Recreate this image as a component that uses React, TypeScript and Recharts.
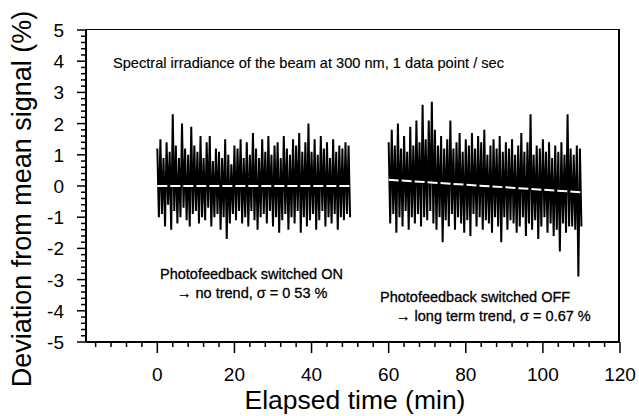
import { LineChart, Line, XAxis, YAxis } from "recharts";

// deviation (%) sampled every 0.4 min, photofeedback ON (0 - 50 min)
const onValues = [
  1.2, -1.0, 1.5, -0.9, 0.9, -1.3, 1.4, -0.6, 1.1, -1.4,
  2.3, -0.8, 1.3, -1.2, 0.9, -1.0, 2.0, -0.7, 1.2, -1.1,
  1.0, -1.3, 1.9, -0.9, 1.3, -0.8, 1.1, -1.2, 1.6, -1.0,
  0.9, -1.1, 1.4, -0.7, 1.6, -1.3, 0.8, -1.0, 1.2, -0.9,
  1.1, -1.4, 0.9, -1.0, 1.5, -1.7, 1.0, -1.2, 0.7, -0.9,
  1.3, -1.1, 1.2, -0.8, 1.5, -1.2, 0.9, -1.0, 1.4, -1.3,
  1.0, -0.8, 1.7, -1.1, 1.2, -1.4, 0.9, -1.0, 1.5, -0.9,
  1.1, -1.2, 1.6, -0.8, 1.0, -1.3, 1.3, -1.0, 1.4, -1.5,
  0.9, -1.1, 1.6, -0.9, 1.2, -1.4, 1.0, -1.0, 1.5, -1.2,
  1.3, -0.8, 1.7, -1.5, 1.1, -1.0, 1.4, -1.3, 2.0, -1.1,
  1.1, -0.9, 1.5, -1.4, 1.0, -1.1, 1.6, -0.8, 1.2, -1.3,
  1.4, -1.0, 0.9, -1.2, 1.5, -0.9, 1.1, -1.4, 1.3, -1.0,
  1.2, -1.1, 1.4, -0.9, 1.3, -1.0,
];

// photofeedback OFF (60 - 110 min)
const offValues = [
  1.4, -1.2, 1.8, -0.9, 1.3, -1.5, 2.0, -1.0, 1.2, -1.3,
  1.6, -0.8, 1.1, -1.4, 1.9, -1.0, 1.3, -1.2, 2.1, -0.9,
  1.4, -1.3, 2.6, -1.0, 1.5, -1.1, 2.1, -0.8, 2.7, -1.2,
  1.8, -1.4, 1.3, -1.0, 1.6, -1.8, 1.2, -1.1, 1.5, -1.3,
  2.1, -0.9, 1.2, -1.4, 1.4, -1.0, 1.7, -1.2, 1.1, -1.5,
  1.5, -1.1, 1.3, -1.6, 1.7, -0.9, 1.2, -1.3, 1.6, -1.0,
  1.4, -1.4, 1.8, -1.1, 1.0, -1.2, 1.3, -1.5, 1.5, -1.0,
  1.2, -1.3, 1.6, -1.8, 1.1, -1.0, 1.4, -1.4, 1.2, -1.1,
  1.5, -1.2, 1.0, -1.5, 1.3, -1.3, 1.7, -1.0, 1.1, -1.6,
  1.4, -1.2, 2.3, -1.4, 1.0, -1.1, 1.3, -1.7, 1.2, -1.3,
  1.5, -1.0, 1.1, -1.5, 1.4, -1.2, 0.9, -1.6, 1.3, -1.4,
  1.1, -2.1, 1.4, -1.2, 1.0, -1.5, 2.3, -1.3, 1.2, -1.3,
  1.0, -1.4, 1.3, -2.9, 1.2, -1.3,
];

const onStart = 0;
const offStart = 60;
const sampleStep = 0.4;

const onTrend = [
  { t: 0, v: 0 },
  { t: 50, v: 0 },
];
const offTrend = [
  { t: 60, v: 0.2 },
  { t: 110, v: -0.2 },
];

const xTicks = [-16, -12, -8, -4, 0, 4, 8, 12, 16, 20, 24, 28, 32, 36, 40, 44, 48, 52, 56, 60, 64, 68, 72, 76, 80, 84, 88, 92, 96, 100, 104, 108, 112, 116, 120];
const yTicks = Array.from({ length: 51 }, (_, i) => Math.round((i - 25) * 2) / 10);

const onData = onValues.map((v, i) => ({ t: onStart + i * sampleStep, v }));
const offData = offValues.map((v, i) => ({ t: offStart + i * sampleStep, v }));

const font = '"Liberation Sans", Arial, sans-serif';

const XTick = ({ x, y, payload }: any) => {
  const major = payload.value % 20 === 0;
  return (
    <g>
      <line x1={x} x2={x} y1={y} y2={y + (major ? 11 : 5)} stroke="#000" strokeWidth={1.5} />
      {major && payload.value >= 0 && (
        <text x={x} y={y + 39} textAnchor="middle" fontSize={19} fontFamily={font} fill="#000">
          {payload.value}
        </text>
      )}
    </g>
  );
};

const YTick = ({ x, y, payload }: any) => {
  const v = payload.value;
  const major = Math.abs(v - Math.round(v)) < 1e-6;
  return (
    <g>
      <line x1={x - (major ? 9 : 5)} x2={x} y1={y} y2={y} stroke="#000" strokeWidth={1.5} />
      {major && (
        <text x={x - 22} y={y + 7} textAnchor="end" fontSize={19} fontFamily={font} fill="#000">
          {Math.round(v)}
        </text>
      )}
    </g>
  );
};

const note = { position: "absolute" as const, fontSize: 14.5, whiteSpace: "nowrap" as const, color: "#000", WebkitTextStroke: "0.3px #000" };

export default function App() {
  return (
    <div style={{ position: "absolute", left: 0, top: 0, width: 639, height: 416, background: "#fff", fontFamily: font }}>
      <LineChart width={639} height={416} margin={{ top: 30, right: 19, left: 0, bottom: 0 }}>
        <XAxis
          dataKey="t"
          type="number"
          domain={[-18.5, 120]}
          allowDataOverflow
          ticks={xTicks}
          interval={0}
          tick={<XTick />}
          tickLine={false}
          tickSize={0}
          tickMargin={0}
          height={74}
          axisLine={{ stroke: "#000", strokeWidth: 2 }}
        />
        <YAxis
          dataKey="v"
          type="number"
          domain={[-5, 5]}
          allowDataOverflow
          ticks={yTicks}
          interval={0}
          tick={<YTick />}
          tickLine={false}
          tickSize={0}
          tickMargin={0}
          width={86}
          axisLine={{ stroke: "#000", strokeWidth: 2 }}
        />
        <Line data={onData} dataKey="v" stroke="#000" strokeWidth={2} dot={false} isAnimationActive={false} />
        <Line data={offData} dataKey="v" stroke="#000" strokeWidth={2} dot={false} isAnimationActive={false} />
        <Line data={onTrend} dataKey="v" stroke="#fff" strokeWidth={2} strokeDasharray="10 3" dot={false} isAnimationActive={false} />
        <Line data={offTrend} dataKey="v" stroke="#fff" strokeWidth={2} strokeDasharray="10 3" dot={false} isAnimationActive={false} />
      </LineChart>

      {/* frame top and right edges */}
      <div
        style={{
          position: "absolute",
          left: 86,
          top: 29,
          width: 534,
          height: 313,
          borderTop: "1.5px solid #000",
          borderRight: "2px solid #000",
          boxSizing: "border-box",
          pointerEvents: "none",
        }}
      />

      <div style={{ ...note, left: 113, top: 55, fontSize: 14.6, WebkitTextStroke: "0.15px #000" }}>
        Spectral irradiance of the beam at 300 nm, 1 data point / sec
      </div>
      <div style={{ ...note, left: 160, top: 266 }}>Photofeedback switched ON</div>
      <div style={{ ...note, left: 177, top: 285 }}>→ no trend, σ = 0 53 %</div>
      <div style={{ ...note, left: 380, top: 289 }}>Photofeedback switched OFF</div>
      <div style={{ ...note, left: 396, top: 308 }}>→ long term trend, σ = 0.67 %</div>

      <div style={{ position: "absolute", left: 0, top: 387, width: 710, textAlign: "center", fontSize: 26.5, color: "#000", lineHeight: "26px" }}>
        Elapsed time (min)
      </div>
      <div
        style={{
          position: "absolute",
          left: 22,
          top: 199,
          fontSize: 27,
          lineHeight: "30px",
          whiteSpace: "nowrap",
          color: "#000",
          transform: "translate(-50%, -50%) rotate(-90deg)",
        }}
      >
        Deviation from mean signal (%)
      </div>
    </div>
  );
}
